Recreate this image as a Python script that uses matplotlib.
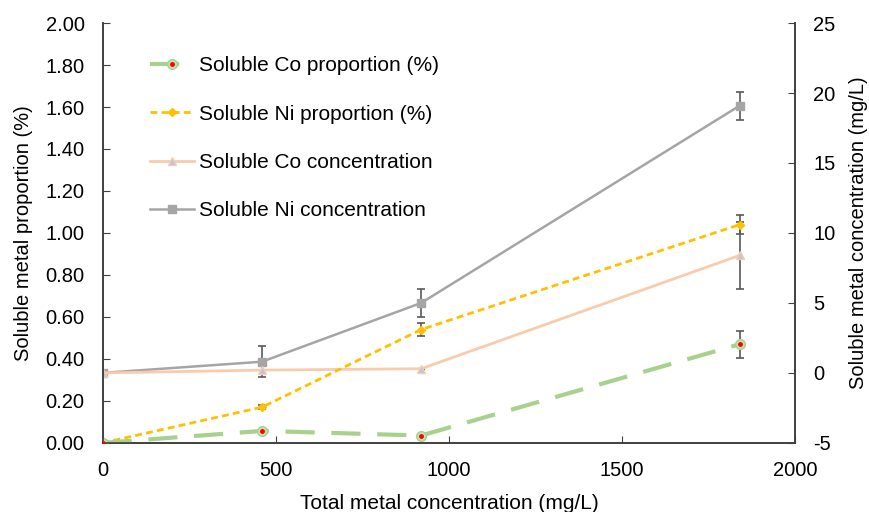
import matplotlib.pyplot as plt

plt.rcParams['font.family'] = ['Liberation Sans', 'DejaVu Sans']
plt.rcParams['axes.unicode_minus'] = False

# Data
total_conc = [0, 460, 920, 1840]

co_prop = [0.0, 0.057, 0.035, 0.47]
co_prop_err = [0, 0, 0, 0.065]
ni_prop = [0.0, 0.17, 0.54, 1.04]
ni_prop_err = [0, 0.01, 0.03, 0.045]

co_conc = [0.0, 0.2, 0.3, 8.4]
co_conc_err = [0, 0, 0, 2.4]
ni_conc = [0.0, 0.8, 5.0, 19.1]
ni_conc_err = [0, 1.1, 1.0, 1.0]

left_ticks = [0.0, 0.2, 0.4, 0.6, 0.8, 1.0, 1.2, 1.4, 1.6, 1.8, 2.0]
right_ticks = [-5, 0, 5, 10, 15, 20, 25]
x_ticks = [0, 500, 1000, 1500, 2000]

fig = plt.figure(figsize=(8.7, 5.12), dpi=100)
ax = fig.add_axes([0.118, 0.135, 0.796, 0.82])
ax2 = ax.twinx()

err_kw = dict(ecolor='#595959', elinewidth=1.2, capsize=3, capthick=1.2)

# Right axis series
ax2.errorbar(total_conc, ni_conc, yerr=ni_conc_err, color='#A5A5A5', lw=1.8,
             marker='s', ms=6, mfc='#A5A5A5', mec='#A5A5A5', **err_kw)
l_ni_conc, = ax2.plot([], [], color='#A5A5A5', lw=1.8, marker='s', ms=6)
ax2.errorbar(total_conc, co_conc, yerr=co_conc_err, color='#F8CBAD', lw=2,
             marker='^', ms=6, mfc='#B4C7E7', mec='#F8CBAD', **err_kw)
l_co_conc, = ax2.plot([], [], color='#F8CBAD', lw=2, marker='^', ms=6,
                      mfc='#B4C7E7', mec='#F8CBAD')

# Left axis series
ax.set_zorder(ax2.get_zorder() + 1)
ax.patch.set_visible(False)
ax.errorbar(total_conc, ni_prop, yerr=ni_prop_err, color='#FFC000', lw=2,
            ls=(0, (2.5, 1.5)), marker='D', ms=4.5, **err_kw)
l_ni_prop, = ax.plot([], [], color='#FFC000', lw=2, ls=(0, (2.5, 1.5)),
                     marker='D', ms=4.5)
ax.errorbar(total_conc, co_prop, yerr=co_prop_err, color='#A9D18E', lw=3,
            ls=(0, (7, 4)), marker='o', ms=7, mfc='#C5E0B4', mec='#A9D18E',
            **err_kw)
ax.plot(total_conc, co_prop, ls='none', marker='o', ms=2.5, color='red',
        zorder=6)
l_co_prop, = ax.plot([], [], color='#A9D18E', lw=3, ls=(0, (7, 4)),
                     marker='o', ms=7, mfc='#C5E0B4', mec='#A9D18E')
l_co_dot, = ax.plot([], [], ls='none', marker='o', ms=2.5, color='red')

ax.set_xlim(0, 2000)
ax.set_ylim(0, 2.0)
ax2.set_ylim(-5, 25)
ax.set_xticks(x_ticks)
ax.set_yticks(left_ticks)
ax.set_yticklabels(['%.2f' % t for t in left_ticks])
ax2.set_yticks(right_ticks)

for a in (ax, ax2):
    a.spines['top'].set_visible(False)
    for s in a.spines.values():
        s.set_color('#404040')
        s.set_linewidth(1.2)
    a.tick_params(direction='in', labelsize=14.5, length=5, color='#404040',
                  pad=13)
ax.tick_params(axis='x', pad=13)

ax.set_xlabel('Total metal concentration (mg/L)', fontsize=15, labelpad=10)
ax.set_ylabel('Soluble metal proportion (%)', fontsize=14.5, labelpad=9)
ax2.set_ylabel('Soluble metal concentration (mg/L)', fontsize=14.5,
               labelpad=10)

ax.legend([(l_co_prop, l_co_dot), l_ni_prop, l_co_conc, l_ni_conc],
          ['Soluble Co proportion (%)', 'Soluble Ni proportion (%)',
           'Soluble Co concentration', 'Soluble Ni concentration'],
          loc='upper left', bbox_to_anchor=(0.042, 0.965), frameon=False,
          fontsize=15, labelspacing=1.4, handlelength=2.1, handletextpad=0.25)

fig.savefig('out.png', dpi=100)
